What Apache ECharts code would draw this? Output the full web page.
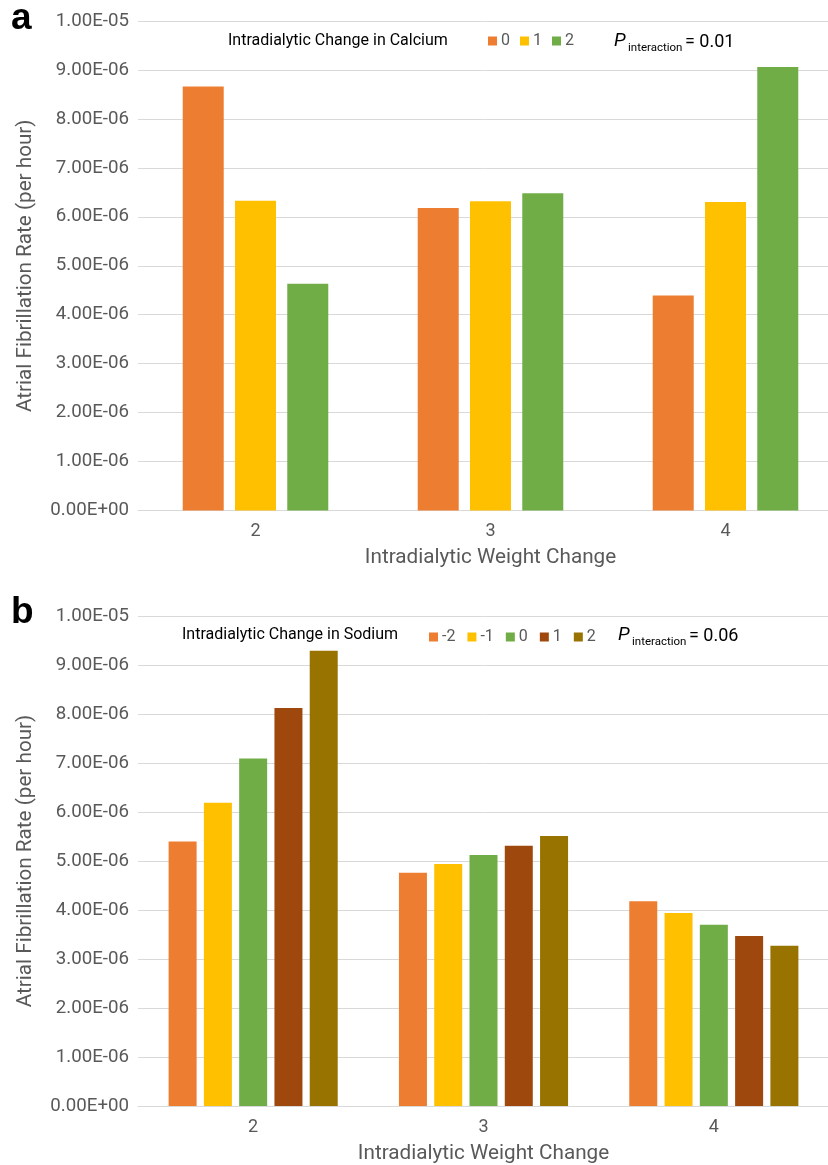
<!DOCTYPE html>
<html>
<head>
<meta charset="utf-8">
<script src="https://cdn.jsdelivr.net/npm/echarts@6/dist/echarts.min.js"></script>
<style>
html,body{margin:0;padding:0;background:#fff;}
#c{width:828px;height:1165px;}
</style>
</head>
<body>
<div id="c"></div>
<script>
// ---------- data ----------
const categories = ['2', '3', '4'];
const yTicks = [0, 1e-6, 2e-6, 3e-6, 4e-6, 5e-6, 6e-6, 7e-6, 8e-6, 9e-6, 1e-5];

// Panel a: Intradialytic change in calcium
const calciumLevels = ['0', '1', '2'];
const calcium0 = [8.66e-6, 6.18e-6, 4.39e-6];
const calcium1 = [6.33e-6, 6.32e-6, 6.30e-6];
const calcium2 = [4.63e-6, 6.48e-6, 9.06e-6];

// Panel b: Intradialytic change in sodium
const sodiumLevels = ['-2', '-1', '0', '1', '2'];
const sodiumM2 = [5.40e-6, 4.76e-6, 4.18e-6];
const sodiumM1 = [6.19e-6, 4.94e-6, 3.94e-6];
const sodium0  = [7.09e-6, 5.12e-6, 3.70e-6];
const sodium1  = [8.12e-6, 5.31e-6, 3.47e-6];
const sodium2  = [9.29e-6, 5.51e-6, 3.27e-6];

const pA = '= 0.01';
const pB = '= 0.06';

// ---------- styling ----------
const colA = ['#ED7D31', '#FFC000', '#70AD47'];
const colB = ['#ED7D31', '#FFC000', '#70AD47', '#9E480E', '#997300'];
const FONT = 'Roboto, "Liberation Sans", sans-serif';
const GRAY = '#595959';
const GRID = '#D9D9D9';

function sci(v) {
  if (v === 0) return '0.00E+00';
  const parts = v.toExponential(2).split('e');
  let e = parseInt(parts[1], 10);
  const sign = e < 0 ? '-' : '+';
  e = Math.abs(e);
  return parts[0] + 'E' + sign + (e < 10 ? '0' + e : '' + e);
}

function xAxisCfg(gi) {
  return {
    type: 'category', gridIndex: gi, data: categories,
    axisLine: {lineStyle: {color: GRID, width: 1}},
    axisTick: {show: false},
    axisLabel: {color: GRAY, fontSize: 18, fontFamily: FONT, margin: 12},
    name: 'Intradialytic Weight Change', nameLocation: 'middle', nameGap: 37,
    nameTextStyle: {color: GRAY, fontSize: 20.7, fontFamily: FONT}
  };
}
function yAxisCfg(gi) {
  return {
    type: 'value', gridIndex: gi, min: yTicks[0], max: yTicks[yTicks.length - 1],
    interval: yTicks[1] - yTicks[0],
    axisLine: {show: false}, axisTick: {show: false},
    splitLine: {lineStyle: {color: GRID, width: 1}},
    axisLabel: {color: GRAY, fontSize: 18.7, fontFamily: FONT, margin: 9, formatter: sci},
    name: 'Atrial Fibrillation Rate (per hour)', nameLocation: 'middle', nameGap: 102,
    nameRotate: 90,
    nameTextStyle: {color: GRAY, fontSize: 20.7, fontFamily: FONT}
  };
}

const seriesA = [calcium0, calcium1, calcium2].map((d, i) => ({
  type: 'bar', name: 'a|' + calciumLevels[i], data: d,
  xAxisIndex: 0, yAxisIndex: 0, barWidth: 41, barGap: '27.5%',
  itemStyle: {color: colA[i]}
}));
const seriesB = [sodiumM2, sodiumM1, sodium0, sodium1, sodium2].map((d, i) => ({
  type: 'bar', name: 'b|' + sodiumLevels[i], data: d,
  xAxisIndex: 1, yAxisIndex: 1, barWidth: 28, barGap: '26%',
  itemStyle: {color: colB[i]}
}));

const legendCommon = {
  orient: 'horizontal', icon: 'rect', itemWidth: 9, itemHeight: 9,
  padding: 0, selectedMode: false,
  textStyle: {color: GRAY, fontSize: 16, fontFamily: FONT, padding: [0, 0, 0, -1]},
  formatter: n => n.split('|')[1]
};

function pLabel(x, y, val) {
  return [
    {type: 'text', left: x, top: y - 11, style: {text: 'P', font: 'italic 19px ' + FONT, fill: '#000'}},
    {type: 'text', left: x + 14, top: y - 1, style: {text: 'interaction', font: '11.5px ' + FONT, fill: '#000'}},
    {type: 'text', left: x + 71, top: y - 10, style: {text: val, font: '18px ' + FONT, fill: '#000'}}
  ];
}

const option = {
  animation: false,
  backgroundColor: '#fff',
  grid: [
    {left: 138, width: 705, top: 21, height: 489.5, outerBoundsMode: 'none', containLabel: false},
    {left: 138, width: 691, top: 616, height: 490, outerBoundsMode: 'none', containLabel: false}
  ],
  xAxis: [xAxisCfg(0), xAxisCfg(1)],
  yAxis: [yAxisCfg(0), yAxisCfg(1)],
  legend: [
    Object.assign({}, legendCommon, {left: 488, top: 33, itemGap: 10, data: seriesA.map(s => s.name)}),
    Object.assign({}, legendCommon, {left: 429, top: 629, itemGap: 12, data: seriesB.map(s => s.name)})
  ],
  graphic: [
    {type: 'text', left: 11, top: 0, style: {text: 'a', font: 'bold 37px "Liberation Sans", Arial, sans-serif', fill: '#000'}},
    {type: 'text', left: 11, top: 594, style: {text: 'b', font: 'bold 37px "Liberation Sans", Arial, sans-serif', fill: '#000'}},
    {type: 'text', left: 228, top: 33, style: {text: 'Intradialytic Change in Calcium', font: '16px ' + FONT, fill: '#000'}},
    {type: 'text', left: 182, top: 627, style: {text: 'Intradialytic Change in Sodium', font: '16px ' + FONT, fill: '#000'}}
  ].concat(pLabel(614, 43, pA), pLabel(618, 637, pB)),
  series: seriesA.concat(seriesB)
};

const chart = echarts.init(document.getElementById('c'), null, {renderer: 'canvas'});
chart.setOption(option);
</script>
</body>
</html>
